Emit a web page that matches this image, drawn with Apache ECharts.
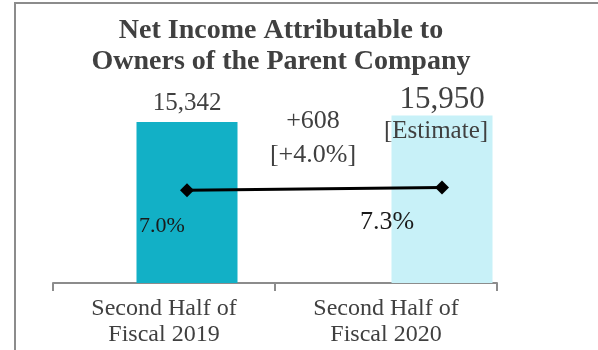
<!DOCTYPE html>
<html>
<head>
<meta charset="utf-8">
<script src="https://cdn.jsdelivr.net/npm/echarts@6/dist/echarts.min.js"></script>
<style>
  html, body { margin: 0; padding: 0; background: #fff; }
  #chart { width: 598px; height: 350px; }
</style>
</head>
<body>
<div id="chart"></div>
<script>
// Net income attributable to owners of the parent (millions of yen) and margin (%)
const categories = ['Second Half of\nFiscal 2019', 'Second Half of\nFiscal 2020'];
const netIncome = [15342, 15950];
const marginPct = [7.0, 7.3];
const barColors = ['#12B0C6', '#C8F1F8'];

const FONT = '"Liberation Serif", "Times New Roman", serif';
const diff = netIncome[1] - netIncome[0];
const diffPct = (diff / netIncome[0] * 100).toFixed(1);
const fmt = v => v.toLocaleString('en-US');

const chart = echarts.init(document.getElementById('chart'), null, { renderer: 'canvas' });

chart.setOption({
  animation: false,
  backgroundColor: '#fff',
  title: {
    text: 'Net Income Attributable to\nOwners of the Parent Company',
    left: 276,
    top: 10,
    textAlign: 'center',
    textStyle: {
      fontFamily: FONT,
      fontWeight: 'bold',
      fontSize: 28,
      lineHeight: 31,
      color: '#404040'
    }
  },
  grid: [
    { left: 59.5, width: 510, top: 73, height: 210 },
    { left: 53, width: 444, top: 73, height: 210 }
  ],
  xAxis: [
    {
      gridIndex: 0, type: 'category', data: categories,
      show: false
    },
    {
      gridIndex: 1, type: 'category', data: categories,
      axisLine: { lineStyle: { color: '#8c8c8c', width: 2 } },
      axisTick: { show: true, length: 8, lineStyle: { color: '#8c8c8c', width: 2 } },
      axisLabel: {
        fontFamily: FONT, fontSize: 24, lineHeight: 26,
        color: '#404040', margin: 13
      }
    }
  ],
  yAxis: [
    { gridIndex: 0, type: 'value', min: 0, max: 20000, show: false },
    { gridIndex: 0, type: 'value', min: -3.3, max: 20, show: false },
    { gridIndex: 1, type: 'value', min: 0, max: 1, show: false }
  ],
  series: [
    {
      type: 'bar',
      xAxisIndex: 0, yAxisIndex: 0,
      barWidth: 101,
      z: 1,
      data: netIncome.map((v, i) => ({
        value: v,
        itemStyle: { color: barColors[i] },
        label: i === 0
          ? { show: true, position: 'top', distance: 6, formatter: fmt(v),
              fontFamily: FONT, fontSize: 25, color: '#404040' }
          : { show: true, position: 'top', distance: 0,
              formatter: '{n|' + fmt(v) + '}',
              rich: { n: { fontFamily: FONT, fontSize: 31, color: '#404040' } } }
      }))
    },
    {
      type: 'bar',
      xAxisIndex: 1, yAxisIndex: 2,
      data: [0, 0],
      silent: true
    },
    {
      type: 'line',
      xAxisIndex: 0, yAxisIndex: 1,
      z: 5,
      data: marginPct.map((v, i) => ({
        value: v,
        label: {
          show: true,
          position: 'bottom',
          formatter: v.toFixed(1) + '%',
          fontFamily: FONT,
          fontSize: i === 0 ? 22 : 26,
          color: '#1a1a1a',
          offset: i === 0 ? [-25, 13] : [-55, 10]
        }
      })),
      symbol: 'diamond',
      symbolSize: 14,
      lineStyle: { color: '#000', width: 3 },
      itemStyle: { color: '#000' }
    }
  ],
  graphic: [
    {
      type: 'polyline',
      z: 100,
      shape: { points: [[15, 350], [15, 3], [598, 3]] },
      style: { stroke: '#8c8c8c', lineWidth: 2, fill: null }
    },
    {
      type: 'text',
      z: 100,
      x: 313, y: 104,
      style: {
        text: '+' + diff + '\n[+' + diffPct + '%]',
        textAlign: 'center',
        font: '26px ' + FONT,
        lineHeight: 34,
        fill: '#404040'
      }
    },
    {
      type: 'text',
      z: 100,
      x: 436, y: 119,
      style: {
        text: '[Estimate]',
        textAlign: 'center',
        font: '25px ' + FONT,
        fill: '#404040'
      }
    }
  ]
});
</script>
</body>
</html>
